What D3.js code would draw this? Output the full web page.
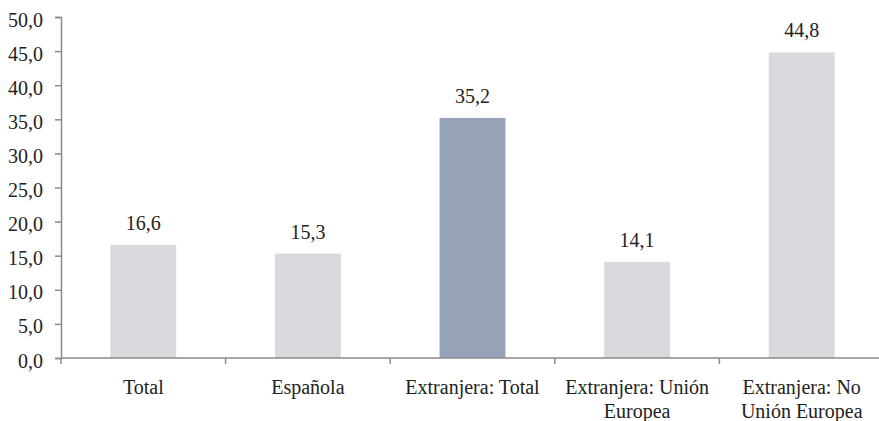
<!DOCTYPE html>
<html>
<head>
<meta charset="utf-8">
<script src="https://cdn.jsdelivr.net/npm/d3@7"></script>
</head>
<body style="margin:0;background:#ffffff">
<svg id="fig" width="879" height="421" style="display:block"></svg>
<script>
// Categories and values (percent)
const categories = [
  ["Total"],
  ["Española"],
  ["Extranjera: Total"],
  ["Extranjera: Unión", "Europea"],
  ["Extranjera: No", "Unión Europea"]
];
const values = [16.6, 15.3, 35.2, 14.1, 44.8];
const highlighted = [false, false, true, false, false];
const yTicks = [0, 5, 10, 15, 20, 25, 30, 35, 40, 45, 50];

const svg = d3.select("#fig");
const fontSize = 20;
const family = "Liberation Serif";
const textColor = "#222222";
const axisColor = "#8a8a8a";

const x = d3.scaleBand()
  .domain(d3.range(categories.length))
  .range([61, 884])
  .paddingInner(0.6)
  .paddingOuter(0.3);

const y = d3.scaleLinear().domain([0, 50]).range([358, 17]);

const fmt = v => d3.format(".1f")(v).replace(".", ",");

function serifText(sel) {
  sel.attr("font-family", family)
    .style("font-family", family, "important")
    .attr("font-size", fontSize)
    .attr("fill", textColor);
}

// Bars
svg.append("g").selectAll("rect")
  .data(values)
  .join("rect")
  .attr("x", (d, i) => x(i))
  .attr("y", d => y(d))
  .attr("width", x.bandwidth())
  .attr("height", d => y(0) - y(d))
  .attr("fill", (d, i) => highlighted[i] ? "#96a2b8" : "#d8d9dd");

// Value labels
svg.append("g").selectAll("text")
  .data(values)
  .join("text")
  .attr("x", (d, i) => x(i) + x.bandwidth() / 2)
  .attr("y", d => y(d) - 15)
  .attr("text-anchor", "middle")
  .call(serifText)
  .text(d => fmt(d));

// Y axis
const yAxis = svg.append("g")
  .attr("transform", "translate(61,0)")
  .call(d3.axisLeft(y).tickValues(yTicks).tickFormat(fmt).tickSize(6).tickPadding(12));
yAxis.attr("font-family", family).attr("font-size", fontSize);
yAxis.select(".domain").attr("stroke", axisColor).attr("stroke-width", 1.5);
yAxis.selectAll(".tick line").attr("stroke", axisColor).attr("stroke-width", 1.5);
yAxis.selectAll(".tick text")
  .call(serifText)
  .attr("dy", "0.45em");

// X axis line with ticks at category boundaries
const step = x.step();
const boundaries = d3.range(categories.length + 1).map(i => 61 + i * step);
const xg = svg.append("g");
xg.append("line")
  .attr("x1", 61).attr("x2", 884)
  .attr("y1", y(0)).attr("y2", y(0))
  .attr("stroke", axisColor).attr("stroke-width", 1.5);
xg.selectAll("line.tick")
  .data(boundaries)
  .join("line")
  .attr("class", "tick")
  .attr("x1", d => d).attr("x2", d => d)
  .attr("y1", y(0)).attr("y2", y(0) + 6)
  .attr("stroke", axisColor).attr("stroke-width", 1.5);

// Category labels
const lab = svg.append("g").selectAll("text")
  .data(categories)
  .join("text")
  .attr("x", (d, i) => x(i) + x.bandwidth() / 2)
  .attr("y", y(0) + 36)
  .attr("text-anchor", "middle")
  .call(serifText);
lab.selectAll("tspan")
  .data(d => d)
  .join("tspan")
  .attr("x", function () { return d3.select(this.parentNode).attr("x"); })
  .attr("dy", (d, i) => i === 0 ? 0 : 24)
  .text(d => d);
</script>
</body>
</html>
